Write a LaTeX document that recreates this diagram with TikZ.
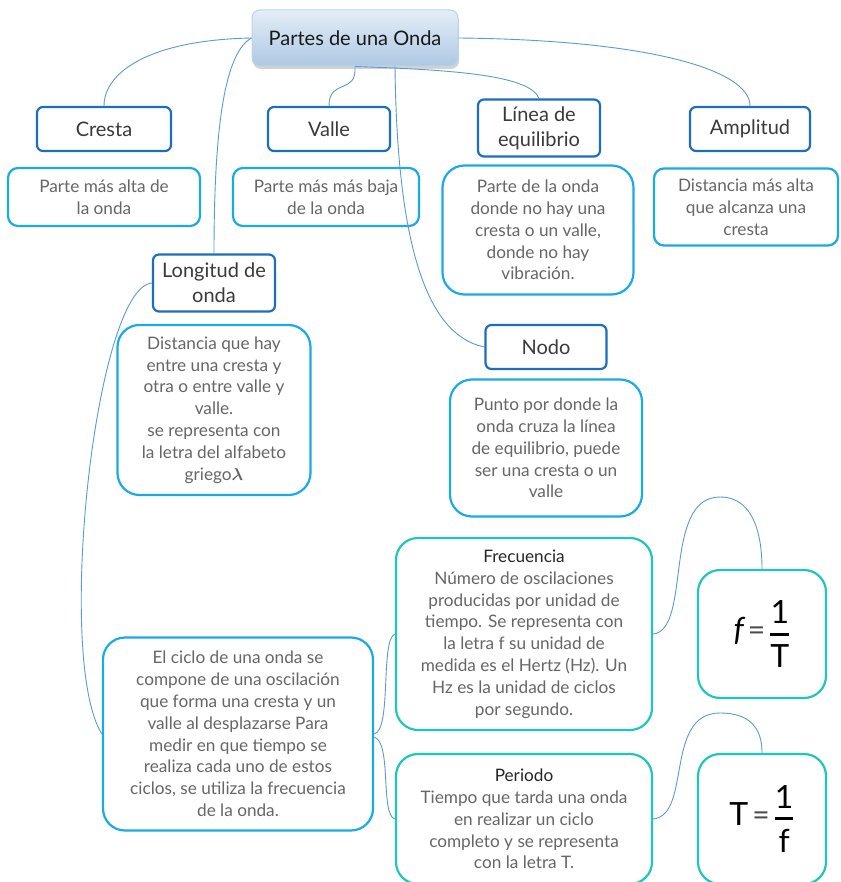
\documentclass[tikz,border=0pt]{standalone}
\usepackage{amsmath}
\usepackage{fontspec}
\setmainfont{Lato}
\usetikzlibrary{calc,shadows}
\definecolor{headblue}{HTML}{1C6EBF}
\definecolor{descblue}{HTML}{1AAAE6}
\definecolor{teal}{HTML}{1FC6BA}
\definecolor{conn}{HTML}{5B9BD5}
\definecolor{txtgray}{HTML}{666666}
\definecolor{headtxt}{HTML}{3A3A3A}
\tikzset{
  headbox/.style={draw=headblue, line width=2.2pt, rounded corners=6pt, fill=white,
    text=headtxt, font=\fontsize{20}{25}\selectfont, align=center, inner sep=0pt},
  descbox/.style={draw=descblue, line width=2.2pt, rounded corners=10pt, fill=white,
    text=txtgray, font=\fontsize{17.2}{21.8}\selectfont, align=center, inner sep=0pt},
  bigbox/.style={descbox, rounded corners=22pt},
  tealbox/.style={bigbox, draw=teal},
  formula/.style={tealbox, text=black, font=\fontsize{32}{38}\selectfont},
  connline/.style={draw=conn, line width=0.9pt},
}
\newcommand{\eqsign}{{\fontsize{30}{34}\selectfont\color{black!70}=}}
\begin{document}
\begin{tikzpicture}[x=1pt,y=-1pt]
\clip (0,0) rectangle (840,882);
\fill[white] (0,0) rectangle (840,882);
% title
\node[draw=white!70!headblue, line width=1pt, rounded corners=8pt, top color=white!70!headblue!40, bottom color=headblue!35!white!95!gray,
  drop shadow={opacity=0.35, shadow xshift=1pt, shadow yshift=-3pt},
  minimum width=206pt, minimum height=56pt, inner sep=0pt, text=black!90,
  font=\fontsize{20}{24}\selectfont] (t) at (355,38) {Partes de una Onda};
% heads
\node[headbox, minimum width=134pt, minimum height=44pt] (cresta) at (104,129) {Cresta};
\node[headbox, minimum width=122pt, minimum height=44pt] (valle) at (329,129) {Valle};
\node[headbox, minimum width=122pt, minimum height=57pt] (linea) at (539,128) {Línea de\\equilibrio};
\node[headbox, minimum width=120pt, minimum height=44pt] (amp) at (750,129) {Amplitud};
\node[headbox, minimum width=122pt, minimum height=57pt] (long) at (214,283) {Longitud de\\onda};
\node[headbox, minimum width=121pt, minimum height=44pt] (nodo) at (546,347) {Nodo};
% descriptions
\node[descbox, minimum width=192pt, minimum height=58pt] (dcresta) at (104,197) {Parte más alta de\\la onda};
\node[descbox, minimum width=186pt, minimum height=58pt] (dvalle) at (326,197) {Parte más más baja\\de la onda};
\node[bigbox, minimum width=191pt, minimum height=129pt] (dlinea) at (538,230) {Parte de la onda\\donde no hay una\\cresta o un valle,\\donde no hay\\vibración.};
\node[descbox, minimum width=184pt, minimum height=77pt] (damp) at (746,207) {Distancia más alta\\que alcanza una\\cresta};
\node[bigbox, minimum width=193pt, minimum height=170pt] (dlong) at (214,410) {Distancia que hay\\entre una cresta y\\otra o entre valle y\\valle.\\se representa con\\la letra del alfabeto\\griego{\boldmath$\lambda$}};
\node[bigbox, minimum width=192pt, minimum height=137pt] (dnodo) at (546,448) {Punto por donde la\\onda cruza la línea\\de equilibrio, puede\\ser una cresta o un\\valle};
\node[bigbox, minimum width=270pt, minimum height=193pt] (ciclo) at (238,734) {El ciclo de una onda se\\compone de una oscilación\\que forma una cresta y un\\valle al desplazarse Para\\medir en que tiempo se\\realiza cada uno de estos\\ciclos, se utiliza la frecuencia\\de la onda.};
\node[tealbox, minimum width=256pt, minimum height=192pt] (frec) at (524,634) {{\color{black!85}Frecuencia}\\Número de oscilaciones\\producidas por unidad de\\tiempo. Se representa con\\la letra f su unidad de\\medida es el Hertz (Hz). Un\\Hz es la unidad de ciclos\\por segundo.};
\node[tealbox, minimum width=256pt, minimum height=130pt] (per) at (524,819) {{\color{black!85}Periodo}\\Tiempo que tarda una onda\\en realizar un ciclo\\completo y se representa\\con la letra T.};
\node[formula, minimum width=128pt, minimum height=128pt] (fbox) at (762,634)
  {{\itshape f}\kern4pt\eqsign\kern4pt$\genfrac{}{}{3pt}{0}{\mbox{1}}{\mbox{T}}$};
\node[formula, minimum width=128pt, minimum height=130pt] (tbox) at (762,819)
  {T\kern4pt\eqsign\kern4pt$\genfrac{}{}{3pt}{0}{\mbox{1}}{\mbox{f}}$};
% connectors
\draw[connline] (t.west) .. controls (150,40) and (104,72) .. (cresta.north);
\draw[connline] (t.west) .. controls (226,52) and (214,120) .. (long.north);
\draw[connline] (t.south) .. controls (357,95) and (329,78) .. (valle.north);
\draw[connline] (t.south) .. controls (460,70) and (530,76) .. (linea.north);
\draw[connline] ($(t.south)+(40,0)$) .. controls (397,240) and (425,335) .. (nodo.west);
\draw[connline] (t.east) .. controls (650,40) and (750,70) .. (amp.north);
\draw[connline] (long.west) .. controls (95,288) and (55,660) .. (ciclo.west);
\draw[connline] (ciclo.east) .. controls (392,730) and (380,640) .. (frec.west);
\draw[connline] ($(ciclo.east)+(0,3)$) .. controls (392,742) and (380,815) .. (per.west);
\draw[connline] (frec.east) .. controls (692,630) and (662,497) .. (720,497) .. controls (756,497) and (762,540) .. (fbox.north);
\draw[connline] (per.east) .. controls (692,815) and (664,713) .. (720,713) .. controls (756,713) and (762,735) .. (tbox.north);
\end{tikzpicture}
\end{document}
